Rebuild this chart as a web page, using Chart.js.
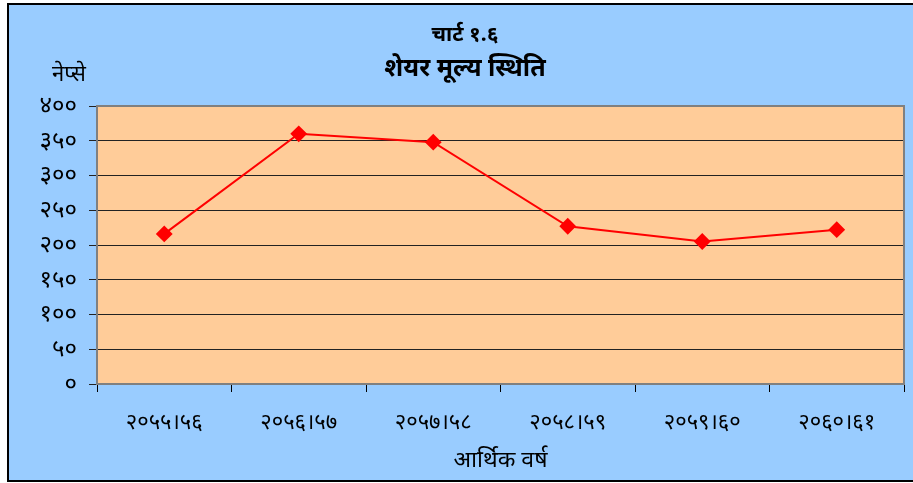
<!DOCTYPE html>
<html>
<head>
<meta charset="utf-8">
<script src="https://cdn.jsdelivr.net/npm/chart.js@4"></script>
<style>
  html, body { margin: 0; padding: 0; background: #fff; }
  canvas { display: block; }
</style>
</head>
<body>
<canvas id="shareChart" width="913" height="483"></canvas>
<script>
// data
const years = ['२०५५।५६', '२०५६।५७', '२०५७।५८', '२०५८।५९', '२०५९।६०', '२०६०।६१'];
const shareIndex = [216, 360, 348, 227, 205, 222];
const yTicks = [0, 50, 100, 150, 200, 250, 300, 350, 400];

const devDigits = ['०', '१', '२', '३', '४', '५', '६', '७', '८', '९'];
const toDev = n => String(n).split('').map(d => devDigits[+d] ?? d).join('');

const FONT = "'Noto Sans', 'Noto Sans Devanagari', sans-serif";

// background, plot area and titles
const chartDecor = {
    id: 'chartDecor',
    beforeDraw(chart) {
        const { ctx, chartArea: a } = chart;
        ctx.save();
        ctx.fillStyle = '#fff';
        ctx.fillRect(0, 0, chart.width, chart.height);
        ctx.fillStyle = '#99CCFF';
        ctx.fillRect(8, 3, chart.width - 8, 478);
        ctx.strokeStyle = '#000';
        ctx.lineWidth = 2;
        ctx.beginPath();
        ctx.moveTo(chart.width, 4);
        ctx.lineTo(8, 4);
        ctx.lineTo(8, 481);
        ctx.lineTo(chart.width, 481);
        ctx.stroke();
        ctx.fillStyle = '#FFCC99';
        ctx.fillRect(a.left, a.top, a.right - a.left, a.bottom - a.top);

        ctx.fillStyle = '#000';
        ctx.textAlign = 'center';
        ctx.textBaseline = 'middle';
        ctx.font = `bold 21px ${FONT}`;
        ctx.fillText('चार्ट १.६', 465, 35);
        ctx.font = `bold 25px ${FONT}`;
        ctx.fillText('शेयर मूल्य स्थिति', 465, 69);
        ctx.font = `22px ${FONT}`;
        ctx.fillText('नेप्से', 69, 75);
        ctx.restore();
    },
    afterDatasetsDraw(chart) {
        const { ctx, chartArea: a } = chart;
        ctx.save();
        ctx.strokeStyle = '#808080';
        ctx.lineWidth = 2;
        ctx.strokeRect(a.left, a.top, a.right - a.left, a.bottom - a.top);
        ctx.restore();
    }
};

new Chart(document.getElementById('shareChart'), {
    type: 'line',
    data: {
        labels: years,
        datasets: [{
            data: shareIndex,
            borderColor: '#FF0000',
            backgroundColor: '#FF0000',
            borderWidth: 2,
            pointStyle: 'rectRot',
            pointRadius: 7,
            pointHoverRadius: 7,
            tension: 0
        }]
    },
    options: {
        responsive: false,
        animation: false,
        layout: { padding: { top: 106, right: 8, left: 0, bottom: 0 } },
        plugins: {
            legend: { display: false },
            tooltip: { enabled: false }
        },
        scales: {
            x: {
                offset: true,
                grid: {
                    offset: true,
                    drawOnChartArea: false,
                    color: '#000',
                    tickLength: 8
                },
                border: { color: '#808080', width: 2 },
                ticks: {
                    color: '#000',
                    padding: 18,
                    maxRotation: 0,
                    font: { family: FONT, size: 22 }
                },
                title: {
                    display: true,
                    text: 'आर्थिक वर्ष',
                    color: '#000',
                    padding: { top: 4, bottom: 9 },
                    font: { family: FONT, size: 23 }
                },
                afterFit(scale) { scale.height = 99; }
            },
            y: {
                min: 0,
                max: 400,
                afterBuildTicks(scale) { scale.ticks = yTicks.map(v => ({ value: v })); },
                grid: {
                    color: '#222',
                    lineWidth: 1,
                    tickLength: 8
                },
                border: { color: '#808080', width: 2 },
                ticks: {
                    color: '#000',
                    padding: 12,
                    font: { family: FONT, size: 24 },
                    callback: v => toDev(v)
                },
                afterFit(scale) { scale.width = 97; }
            }
        }
    },
    plugins: [chartDecor]
});
</script>
</body>
</html>
